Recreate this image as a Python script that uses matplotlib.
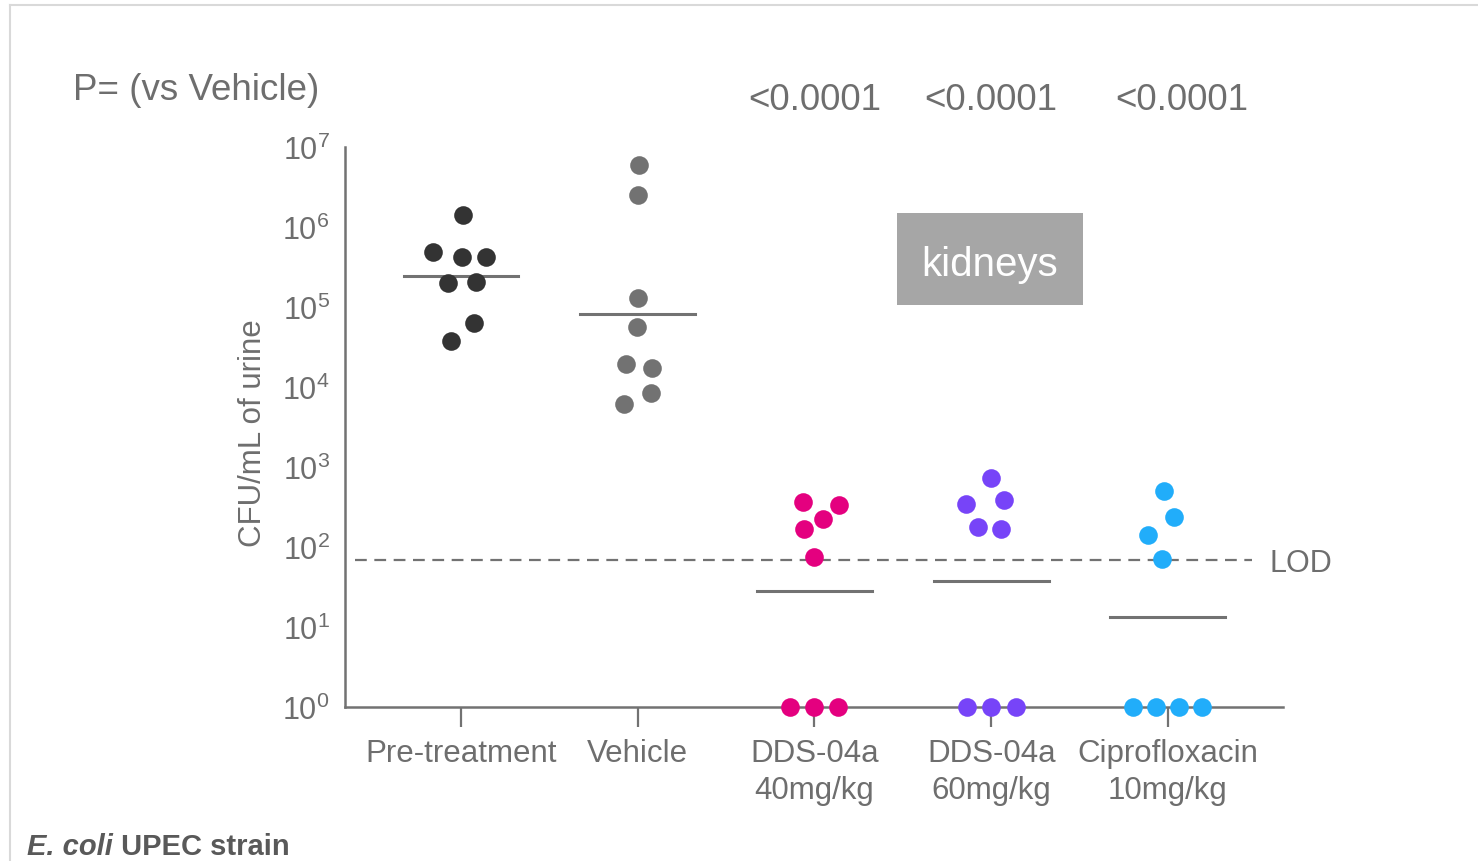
import numpy as np
import matplotlib
matplotlib.use('Agg')
import matplotlib.pyplot as plt
import matplotlib.transforms as mtransforms
from matplotlib.lines import Line2D
from matplotlib.patches import Rectangle

plt.rcParams['font.family'] = ['Liberation Sans', 'DejaVu Sans']
plt.rcParams['mathtext.fontset'] = 'custom'
plt.rcParams['mathtext.rm'] = 'Liberation Sans'

# data
groups = ['Pre-treatment', 'Vehicle', 'DDS-04a\n40mg/kg', 'DDS-04a\n60mg/kg', 'Ciprofloxacin\n10mg/kg']
colors = ['#333333', '#727272', '#E4007F', '#7744F8', '#21ADFA']
p_values = ['', '', '<0.0001', '<0.0001', '<0.0001']

pre_vals = [1.4e6, 4.9e5, 4.2e5, 4.2e5, 2.0e5, 2.05e5, 6.3e4, 3.8e4]
veh_vals = [6.0e6, 2.5e6, 1.3e5, 5.6e4, 1.95e4, 1.75e4, 8.4e3, 6.2e3]
dds40_vals = [363, 339, 224, 168, 74, 1, 1, 1]
dds60_vals = [724, 347, 389, 178, 170, 1, 1, 1]
cipro_vals = [501, 234, 141, 71, 1, 1, 1, 1]
values = [pre_vals, veh_vals, dds40_vals, dds60_vals, cipro_vals]

medians = [2.45e5, 8.1e4, 27.9, 37.2, 13.5]
lod = 68

# horizontal scatter of the dots inside each group (category units)
pre_off = [0.01, -0.16, 0.005, 0.14, -0.075, 0.085, 0.075, -0.055]
veh_off = [0.005, 0.0, 0.0, -0.005, -0.065, 0.08, 0.075, -0.075]
dds40_off = [-0.065, 0.14, 0.05, -0.06, -0.005, -0.14, 0.0, 0.135]
dds60_off = [0.0, -0.14, 0.075, -0.075, 0.055, -0.135, 0.0, 0.14]
cipro_off = [-0.02, 0.035, -0.11, -0.035, -0.195, -0.065, 0.065, 0.195]
offsets = [pre_off, veh_off, dds40_off, dds60_off, cipro_off]
p_shift = [0, 0, 0, 0, 0.08]

txt = '#6E6E6E'
axc = '#727272'

W, H = 1478, 862
fig = plt.figure(figsize=(W / 100, H / 100), dpi=100)
ax = fig.add_axes([345 / W, 1 - 708 / H, (1283 - 345) / W, (708 - 148) / H])

for i in range(len(groups)):
    xs = i + np.array(offsets[i])
    ax.scatter(xs, values[i], s=180, color=colors[i], linewidths=0, zorder=5, clip_on=False)
    ax.plot([i - 0.325, i + 0.325], [medians[i], medians[i]], color=axc, lw=2.2, zorder=4)

ax.plot([-0.6, 4.475], [lod, lod], color=axc, lw=1.6, dashes=(5.3, 3.4), zorder=3)
lod_tr = mtransforms.offset_copy(ax.transData, fig=fig, y=-3, units='dots')
ax.text(4.575, lod, 'LOD', color=txt, fontsize=22, va='center', ha='left', transform=lod_tr)

ax.set_yscale('log')
ax.set_ylim(1, 1e7)
ax.set_yticks([10 ** k for k in range(8)])
ax.minorticks_off()
ax.set_xlim(-0.656, 4.651)
ax.set_xticks(range(len(groups)))
ax.set_xticklabels(groups, linespacing=1.3)

for s in ['top', 'right']:
    ax.spines[s].set_visible(False)
for s in ['left', 'bottom']:
    ax.spines[s].set_color(axc)
    ax.spines[s].set_linewidth(1.8)

ax.tick_params(axis='x', length=14.5, width=1.6, color=axc, labelsize=22.5, labelcolor=txt, pad=8)
ax.tick_params(axis='y', length=0, labelsize=22, labelcolor=txt, pad=11)

# y label
fig.text(253 / W, 1 - 433 / H, 'CFU/mL of urine', rotation=90, ha='center', va='center',
         fontsize=22.5, color=txt)

# p values row
trans = mtransforms.blended_transform_factory(ax.transData, fig.transFigure)
for i, p in enumerate(p_values):
    if p:
        ax.text(i + p_shift[i], 1 - 101 / H, p, transform=trans, ha='center', va='center',
                fontsize=26.5, color=txt)
fig.text(73 / W, 1 - 91 / H, 'P= (vs Vehicle)', ha='left', va='center', fontsize=26.5, color=txt)

# kidneys box
ax.add_patch(Rectangle((0.5885, 0.718), 0.198, 0.164, transform=ax.transAxes,
                       facecolor='#A6A6A6', edgecolor='none', zorder=2))
ax.text(0.5885 + 0.099, 0.718 + 0.082 - 5 / 560, 'kidneys', transform=ax.transAxes,
        ha='center', va='center', fontsize=29, color='white', zorder=3)

# strain note
t1 = fig.text(27 / W, 1 - 847 / H, 'E. coli', ha='left', va='center', fontsize=21,
              fontweight='bold', style='italic', color='#595959')
ax.annotate(' UPEC strain', xy=(1, 0), xycoords=t1, ha='left', va='bottom', fontsize=21,
            fontweight='bold', color='#595959', annotation_clip=False)

# slide frame
fig.add_artist(Line2D([10 / W, 1], [1 - 6 / H, 1 - 6 / H], transform=fig.transFigure, color='#D9D9D9', lw=1.5))
fig.add_artist(Line2D([10 / W, 10 / W], [0, 1 - 6 / H], transform=fig.transFigure, color='#D9D9D9', lw=1.5))

fig.savefig('out.png', dpi=100)
